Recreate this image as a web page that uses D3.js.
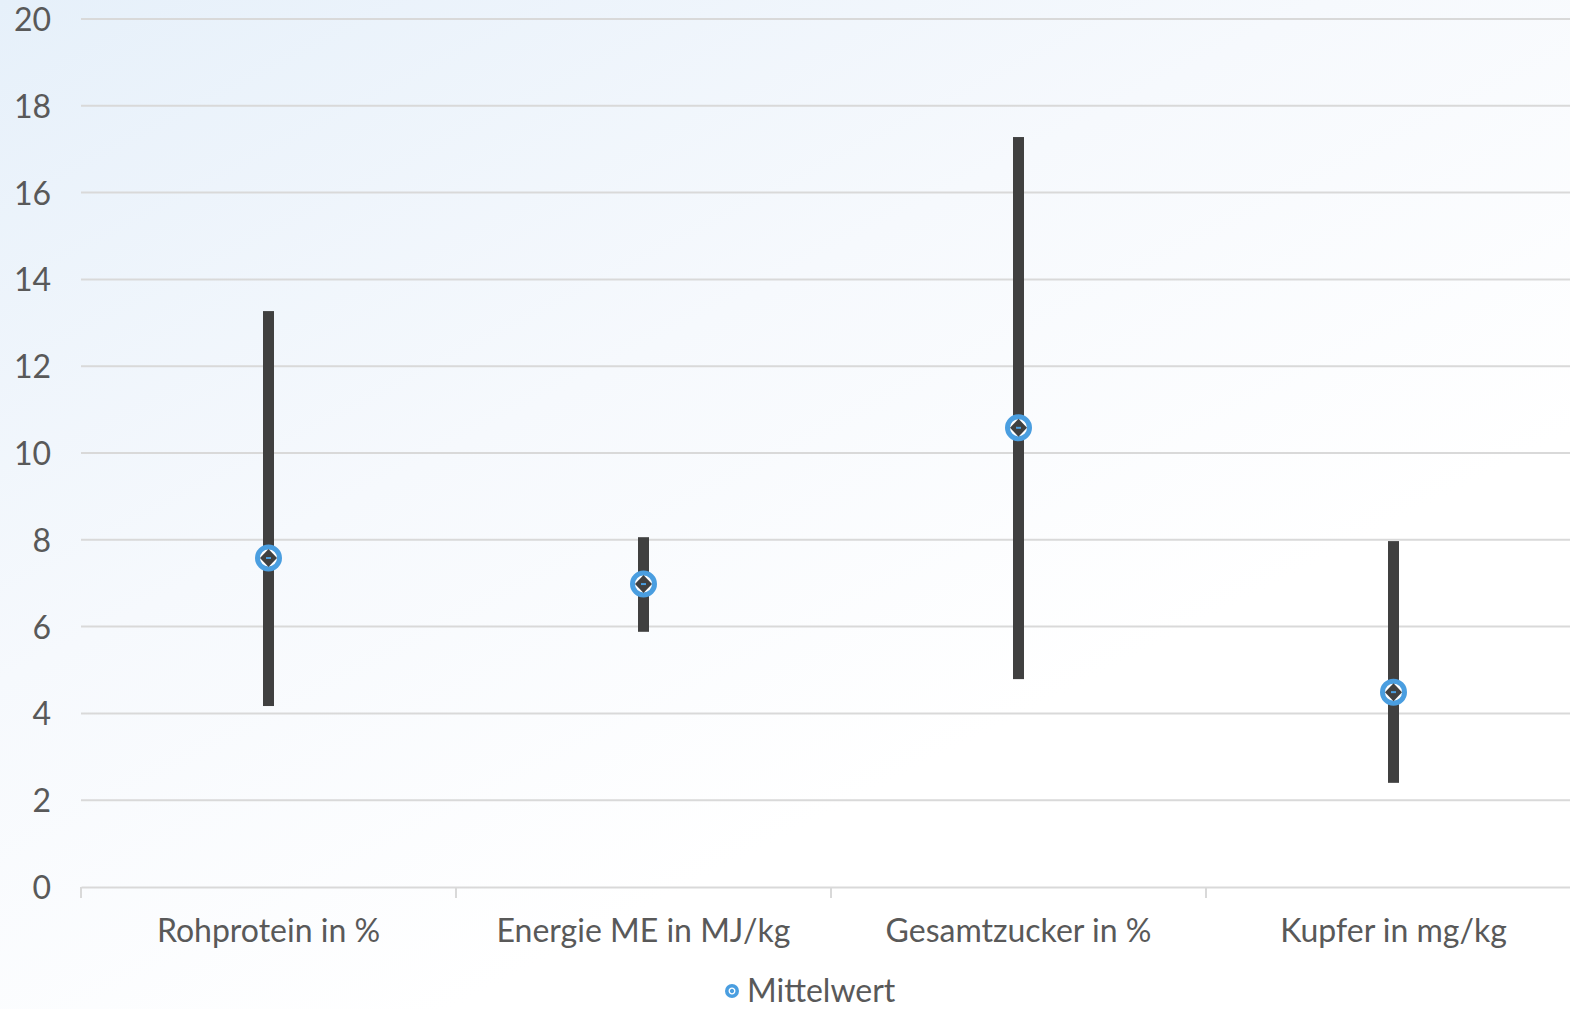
<!DOCTYPE html>
<html><head><meta charset="utf-8">
<script src="https://cdn.jsdelivr.net/npm/d3@7"></script>
<style>html,body{margin:0;padding:0;overflow:hidden;background:#fff}</style>
</head><body>
<svg id="c" width="1570" height="1009"></svg>
<script>
const categories = ["Rohprotein in %", "Energie ME in MJ/kg", "Gesamtzucker in %", "Kupfer in mg/kg"];
const maxValues = [13.27, 8.06, 17.28, 7.97];
const minValues = [4.17, 5.88, 4.79, 2.40];
const meanValues = [7.58, 6.98, 10.58, 4.49];
const yTicks = [0, 2, 4, 6, 8, 10, 12, 14, 16, 18, 20];
const seriesName = "Mittelwert";

const svg = d3.select("#c");
const defs = svg.append("defs");
const grad = defs.append("linearGradient").attr("id","bg").attr("x1","0").attr("y1","0").attr("x2","0.6").attr("y2","0.75");
grad.append("stop").attr("offset","0").attr("stop-color","#e6f0fa");
grad.append("stop").attr("offset","0.55").attr("stop-color","#f6f9fd");
grad.append("stop").attr("offset","1").attr("stop-color","#ffffff");
svg.append("rect").attr("width",1570).attr("height",1009).attr("fill","url(#bg)");

const font = "Lato, 'Open Sans', sans-serif";
const x = d3.scaleBand().domain(categories).range([81, 1581]);
const y = d3.scaleLinear().domain([0, 20]).range([887, 19]);

// gridlines
svg.append("g").selectAll("line").data(yTicks.filter(d=>d>0)).join("line")
  .attr("x1",81).attr("x2",1570).attr("y1",d=>y(d)).attr("y2",d=>y(d))
  .attr("stroke","#d9d9d9").attr("stroke-width",2);

// y axis labels
const yAxis = svg.append("g").attr("transform","translate(51,0)")
  .call(d3.axisLeft(y).tickValues(yTicks).tickSize(0).tickPadding(0));
yAxis.select(".domain").remove();
yAxis.selectAll("text").attr("font-family",font).attr("font-size",32).attr("fill","#595959").attr("text-anchor","end").attr("dy","0.36em");

// x axis
const xAxis = svg.append("g").attr("transform","translate(0,887)")
  .call(d3.axisBottom(x).tickSize(0).tickPadding(30));
xAxis.select(".domain").attr("stroke","#d9d9d9").attr("stroke-width",2);
xAxis.selectAll("text").attr("font-family",font).attr("font-size",32).attr("fill","#595959").attr("dy","0.78em");
svg.append("g").selectAll("line").data(categories).join("line")
  .attr("x1",d=>x(d)).attr("x2",d=>x(d)).attr("y1",887).attr("y2",898)
  .attr("stroke","#d9d9d9").attr("stroke-width",2);

// range bars
const cx = d => x(d) + x.bandwidth()/2;
svg.append("g").selectAll("rect").data(categories).join("rect")
  .attr("x",d=>cx(d)-5.5).attr("width",11)
  .attr("y",(d,i)=>y(maxValues[i])).attr("height",(d,i)=>y(minValues[i])-y(maxValues[i]))
  .attr("fill","#404040");

// mean markers
const m = svg.append("g").selectAll("g").data(categories).join("g")
  .attr("transform",(d,i)=>`translate(${cx(d)},${y(meanValues[i])})`);
m.append("circle").attr("r",11).attr("fill","#ffffff").attr("stroke","#4a9ee0").attr("stroke-width",5);
m.append("path").attr("d","M-8.5,0L0,-9L8.5,0L0,9Z").attr("fill","#404040");
m.append("line").attr("x1",-2.5).attr("x2",2.5).attr("stroke","#4a9ee0").attr("stroke-width",2);

// legend
const lg = svg.append("g").attr("transform","translate(732,991)");
lg.append("circle").attr("r",7).attr("fill","#4a9ee0");
lg.append("circle").attr("r",2.8).attr("fill","none").attr("stroke","#fff").attr("stroke-width",1.3);
lg.append("text").attr("x",15).attr("y",11).text(seriesName)
  .attr("font-family",font).attr("font-size",32).attr("fill","#595959");
</script>
</body></html>
